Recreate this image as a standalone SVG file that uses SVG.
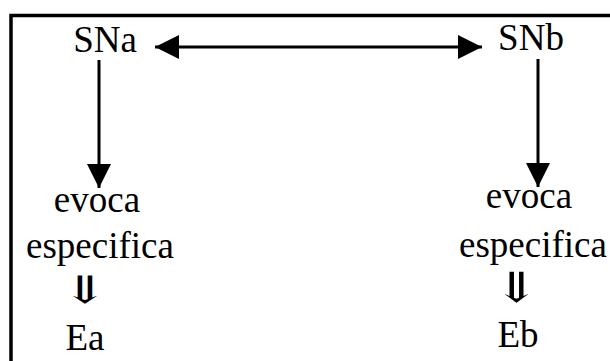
<svg xmlns="http://www.w3.org/2000/svg" width="610" height="361" viewBox="0 0 610 361">
  <style>
    .lbl { font-family: "Liberation Serif", "Times New Roman", serif; font-size: 37px; fill: #000; text-anchor: middle; }
    .dbl { font-family: "DejaVu Serif", "DejaVu Sans", serif; font-size: 38px; fill: #000; text-anchor: middle; }
    .edge { stroke: #000; stroke-width: 3; fill: none; }
    .frame { stroke: #000; stroke-width: 3.5; fill: none; }
  </style>
  <defs>
    <marker id="head" viewBox="0 0 24 24" refX="24" refY="12" markerWidth="24" markerHeight="24" markerUnits="userSpaceOnUse" orient="auto-start-reverse">
      <path d="M0,0 L24,12 L0,24 Z" fill="#000"/>
    </marker>
  </defs>
  <rect width="610" height="361" fill="#fff"/>
  <!-- open frame: top and left sides -->
  <path class="frame" d="M11,361 L11,15.5 L610,15.5"/>

  <g id="connectors">
    <line class="edge" x1="155" y1="47" x2="482" y2="47" marker-start="url(#head)" marker-end="url(#head)"/>
    <line class="edge" x1="99" y1="60" x2="99" y2="188" marker-end="url(#head)"/>
    <line class="edge" x1="538" y1="59" x2="538" y2="187" marker-end="url(#head)"/>
  </g>

  <g id="SNa"><text class="lbl" x="105" y="52">SNa</text></g>
  <g id="SNb"><text class="lbl" x="531" y="50">SNb</text></g>

  <g id="evoca-a">
    <text class="lbl" x="97" y="212">evoca</text>
    <text class="lbl" x="100" y="258">especifica</text>
    <text class="dbl" transform="translate(85,303) scale(1.5,1)" x="0" y="0">⇓</text>
  </g>
  <g id="evoca-b">
    <text class="lbl" x="529" y="208">evoca</text>
    <text class="lbl" x="533" y="257">especifica</text>
    <text class="dbl" transform="translate(517,302) scale(1.5,1.1)" x="0" y="0">⇓</text>
  </g>

  <g id="Ea"><text class="lbl" x="85" y="350">Ea</text></g>
  <g id="Eb"><text class="lbl" x="518" y="347">Eb</text></g>
</svg>
